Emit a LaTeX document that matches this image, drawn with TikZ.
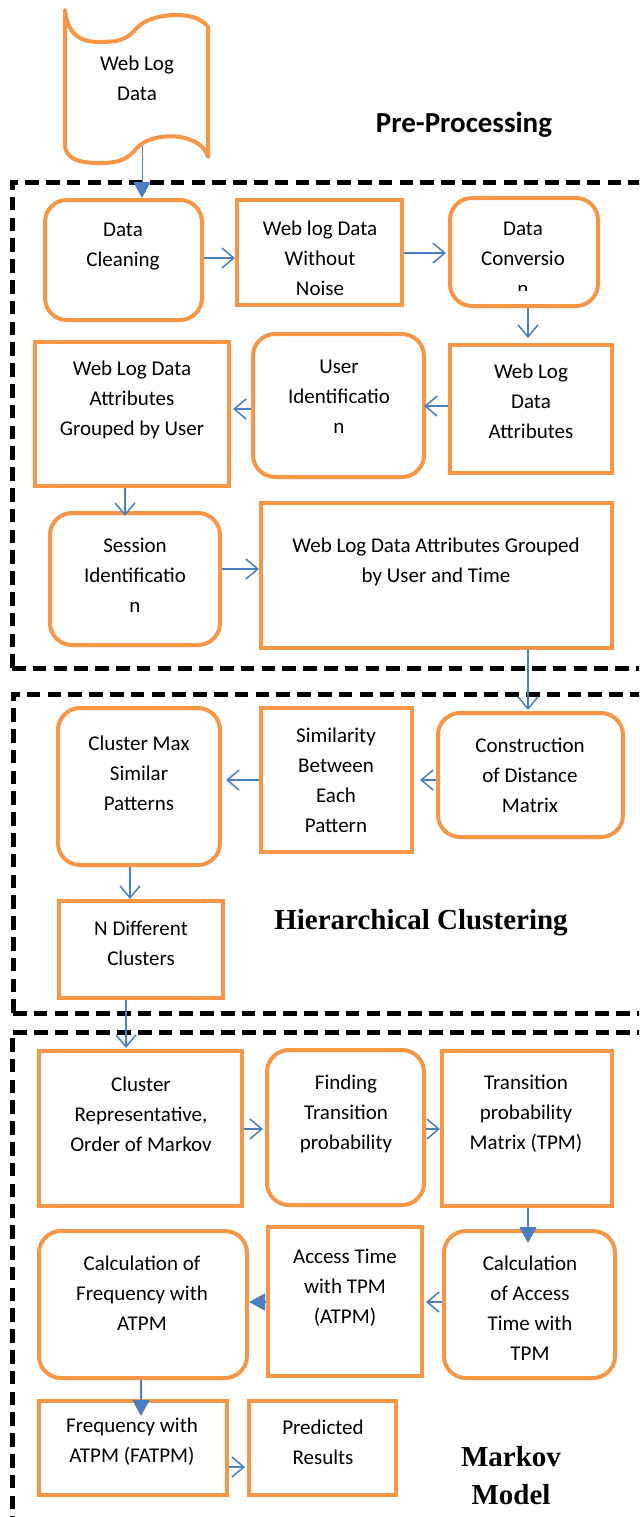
\documentclass[tikz,border=0pt]{standalone}
\usepackage{fontspec}
\setmainfont{Carlito}
\newfontfamily\serifb{Liberation Serif}
\usetikzlibrary{arrows.meta,fit}
\definecolor{bord}{RGB}{247,150,70}
\definecolor{arr}{RGB}{74,126,193}
\begin{document}
\begin{tikzpicture}[x=0.5pt,y=-0.5pt,
  sbox/.style={draw=bord,line width=2pt,inner sep=0pt},
  rbox/.style={draw=bord,line width=2pt,inner sep=0pt,rounded corners=11pt},
  txt/.style={font=\fontsize{10.5}{15}\selectfont,align=center,inner sep=0pt},
  oarr/.style={draw=arr,line width=0.75pt,-{Straight Barb[length=6pt,width=10pt]}},
  farr/.style={draw=arr,line width=0.75pt,-{Triangle[length=8pt,width=8.5pt]}},
  group/.style={draw=black,line width=2.5pt,dash pattern=on 6.8pt off 3.6pt},
  ttl/.style={inner sep=0pt,align=center}]
\clip (0,0) rectangle (639,1517);
\fill[white] (0,0) rectangle (639,1517);

% groups
\draw[group] (12,668) -- (12,182) -- (642,182);
\draw[group] (12,668) -- (642,668);
\draw[group] (13,1013) -- (13,694) -- (642,694);
\draw[group] (13,1013) -- (642,1013);
\draw[group] (12,1530) -- (12,1032) -- (642,1032);

% document shape
\draw[bord,line width=2pt,line join=round]
  (65,10) .. controls (68,35) and (80,42) .. (100,42)
  .. controls (122,42) and (128,38) .. (137,28)
  .. controls (148,14) and (195,8) .. (208,27)
  -- (208,157)
  .. controls (200,130) and (150,132) .. (137,148)
  .. controls (128,158) and (122,163) .. (100,163)
  .. controls (80,163) and (68,160) .. (65,147) -- cycle;
\coordinate (docb) at (142,146);
\node[txt] (doct) at (137,78) {Web Log\\Data};

% titles
\node[ttl,font=\fontsize{14.5}{17}\selectfont\bfseries] (t1) at (464,125) {Pre-Processing};
\node[ttl,font=\serifb\fontsize{14.5}{17}\selectfont\bfseries] (t2) at (421,923) {Hierarchical Clustering};
\node[ttl,font=\serifb\fontsize{14.5}{19}\selectfont\bfseries] (t3) at (511,1476) {Markov\\Model};

% pre-processing boxes
\node[rbox,fit={(45,200) (202,320)}] (dc) {};
\node[txt] (dct) at (123,247) {Data\\Cleaning};
\node[sbox,fit={(237,200) (402,305)}] (wn) {};
\node[txt] (wnt) at (320,258) {Web log Data\\Without\\Noise};
\node[rbox,fit={(450,198) (598,306)}] (dv) {};
\begin{scope}
  \clip (452,200) rectangle (596,290);
  \node[txt] (dvt) at (523,259) {Data\\Conversio\\n};
\end{scope}
\node[sbox,fit={(450,345) (612,473)}] (wa) {};
\node[txt] (wat) at (531,401) {Web Log\\Data\\Attributes};
\node[rbox,fit={(253,334) (424,477)}] (ui) {};
\node[txt] (uit) at (339,397) {User\\Identificatio\\n};
\node[sbox,fit={(35,342) (229,486)}] (gu) {};
\node[txt] (gut) at (132,400) {Web Log Data\\Attributes\\Grouped by User};
\node[rbox,fit={(50,513) (220,645)}] (si) {};
\node[txt] (sit) at (135,575) {Session\\Identificatio\\n};
\node[sbox,fit={(261,503) (612,648)}] (gt) {};
\node[txt] (gtt) at (436,562) {Web Log Data Attributes Grouped\\by User and Time};

% hierarchical clustering boxes
\node[rbox,fit={(438,713) (623,837)}] (cd) {};
\node[txt] (cdt) at (530,775) {Construction\\of Distance\\Matrix};
\node[sbox,fit={(261,708) (412,852)}] (sb) {};
\node[txt] (sbt) at (336,780) {Similarity\\Between\\Each\\Pattern};
\node[rbox,fit={(58,708) (220,865)}] (cm) {};
\node[txt] (cmt) at (139,773) {Cluster Max\\Similar\\Patterns};
\node[sbox,fit={(59,901) (223,998)}] (nd) {};
\node[txt] (ndt) at (141,943) {N Different\\Clusters};

% markov boxes
\node[sbox,fit={(39,1051) (242,1206)}] (cr) {};
\node[txt] (crt) at (141,1114) {Cluster\\Representative,\\Order of Markov};
\node[rbox,fit={(267,1050) (424,1205)}] (ft) {};
\node[txt] (ftt) at (346,1114) {Finding\\Transition\\probability};
\node[sbox,fit={(442,1051) (612,1206)}] (tp) {};
\node[txt] (tpt) at (526,1114) {Transition\\probability\\Matrix (TPM)};
\node[rbox,fit={(444,1231) (615,1378)}] (ca) {};
\node[txt] (cat) at (530,1308) {Calculation\\of Access\\Time with\\TPM};
\node[sbox,fit={(268,1227) (422,1376)}] (at) {};
\node[txt] (att) at (345,1288) {Access Time\\with TPM\\(ATPM)};
\node[rbox,fit={(39,1231) (247,1378)}] (cf) {};
\node[txt] (cft) at (142,1293) {Calculation of\\Frequency with\\ATPM};
\node[sbox,fit={(39,1401) (227,1495)}] (fa) {};
\node[txt] (fat) at (132,1442) {Frequency with\\ATPM (FATPM)};
\node[sbox,fit={(249,1401) (396,1495)}] (pr) {};
\node[txt] (prt) at (323,1442) {Predicted\\Results};

% connectors
\draw[farr,line width=0.5pt] (docb) -- (docb |- dc.north);
\draw[oarr] (dc.east |- 0,258) -- (wn.west |- 0,258);
\draw[oarr] (wn.east |- 0,253) -- ([xshift=-1pt]dv.west |- 0,253);
\draw[oarr] (dv.south -| 528,0) -- (528,338);
\draw[oarr] (wa.west |- 0,406) -- ([xshift=-1pt]ui.east |- 0,406);
\draw[oarr] (ui.west |- 0,409) -- ([xshift=1pt]gu.east |- 0,409);
\draw[oarr] (gu.south -| 125,0) -- (125,516);
\draw[oarr] (si.east |- 0,569) -- (gt.west |- 0,569);
\draw[oarr] (gt.south -| 528,0) -- (528,710);
\draw[oarr] (cd.west |- 0,780) -- ([xshift=3pt]sb.east |- 0,780);
\draw[oarr] (sb.west |- 0,780) -- ([xshift=2pt]cm.east |- 0,780);
\draw[oarr] (cm.south -| 130,0) -- (130,899);
\draw[oarr] (nd.south -| 126,0) -- (126,1048);
\draw[oarr] (cr.east |- 0,1129) -- ([xshift=-1pt]ft.west |- 0,1129);
\draw[oarr] (ft.east |- 0,1129) -- (tp.west |- 0,1129);
\draw[farr] (tp.south -| 528,0) -- (528,1243);
\draw[oarr] (ca.west |- 0,1302) -- ([xshift=1pt]at.east |- 0,1302);
\draw[farr] (at.west |- 0,1302) -- (cf.east |- 0,1302);
\draw[farr] (cf.south -| 141,0) -- (141,1416);
\draw[oarr] (fa.east |- 0,1467) -- ([xshift=-1pt]pr.west |- 0,1467);
\end{tikzpicture}
\end{document}
